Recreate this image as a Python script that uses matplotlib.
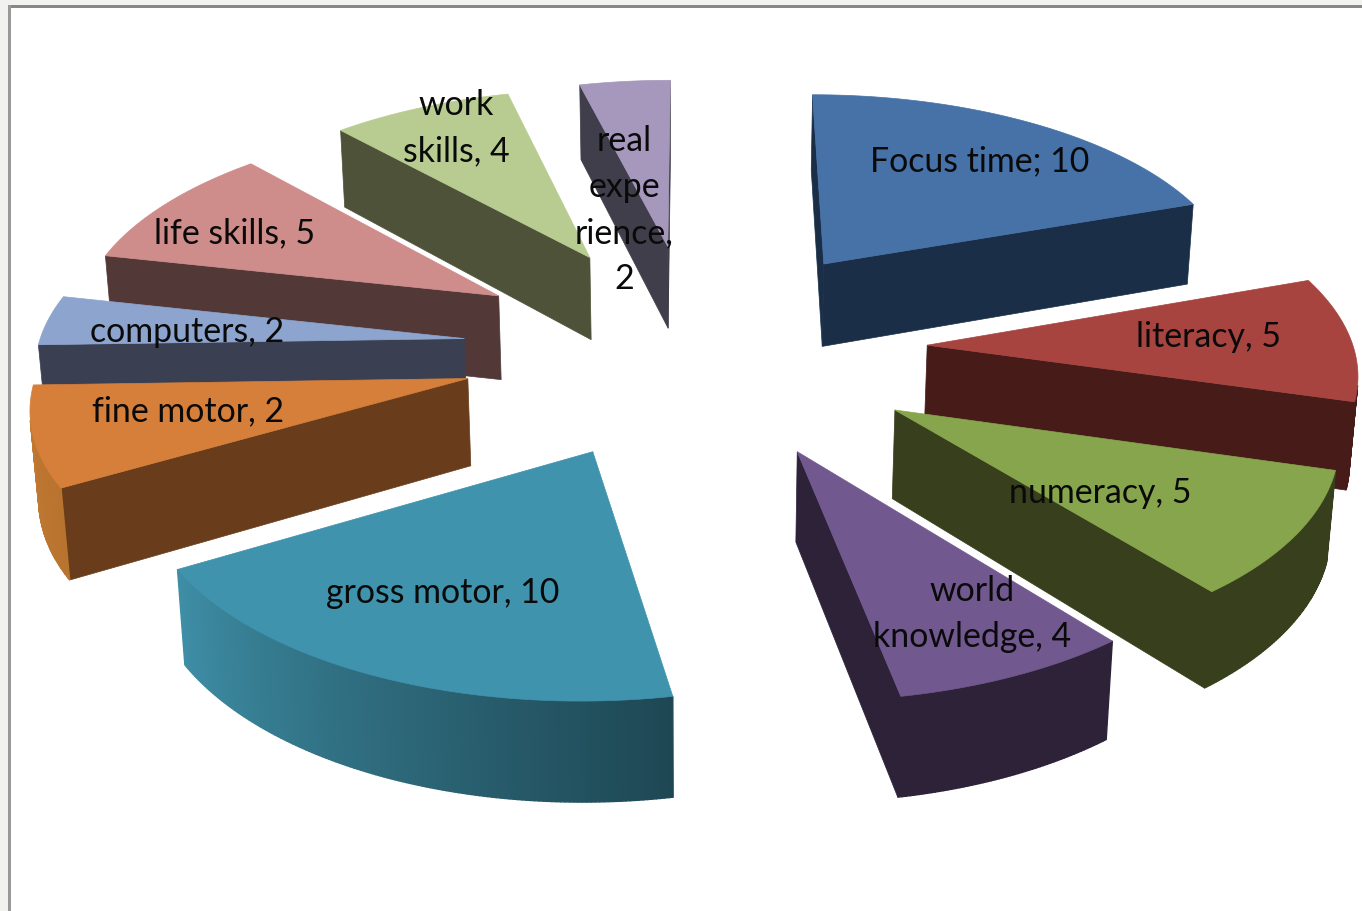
import numpy as np
import matplotlib
matplotlib.use("Agg")
import matplotlib.pyplot as plt
from matplotlib.colors import to_rgb
from matplotlib.patches import Polygon, Rectangle

# the chart
categories = ["Focus time", "literacy", "numeracy", "world knowledge", "gross motor",
              "fine motor", "computers", "life skills", "work skills", "real experience"]
label_texts = ["Focus time; 10", "literacy, 5", "numeracy, 5", "world\nknowledge, 4", "gross motor, 10",
               "fine motor, 2", "computers, 2", "life skills, 5", "work\nskills, 4", "real\nexpe\nrience,\n2"]
# wedge sizes as they look in the picture (fine motor is drawn about 4 wide though it is labelled 2)
wedge_sizes = [10, 5, 5, 4, 10, 4, 2, 5, 4, 2]

top_colors = ["#4672A8", "#A74440", "#87A54C", "#71588F", "#3F93AD",
              "#D67F3A", "#8DA5CE", "#CE8C8B", "#B8CC92", "#A698BC"]
wall_colors = ["#1A2E47", "#461B18", "#373F1C", "#2D2238", "#2F7F97",
               "#693D1B", "#3A3F51", "#533838", "#4D5238", "#413E4B"]
rim_start_colors = ["#1A2E47", "#461B18", "#373F1C", "#2D2238", "#1E4753",
                    "#B8732F", "#3A3F51", "#533838", "#4D5238", "#413E4B"]
rim_end_colors = ["#1A2E47", "#461B18", "#373F1C", "#2D2238", "#3E8EA6",
                  "#C47A33", "#3A3F51", "#533838", "#4D5238", "#413E4B"]

# label centres in pixels
label_x = [980, 1209, 1100, 972, 443, 188, 187, 235, 456, 624]
label_y = [161, 337, 493, 614, 593, 411, 332, 233, 128, 210]

# view of the 3d pie
CX, CY = 695, 348.5
HX, HY = 435, 202
PERSP = 0.10
SAG = 0.013
DEPTH = 86
EXPLODE = 0.535
RADIUS_X = 0.98


def project(x, y, z=0.0):
    w = 1 + PERSP * y
    return CX + HX * x / (w - SAG * z), CY - (HY * y + DEPTH * z) / w


def area(pts):
    p = np.asarray(pts)
    q = np.roll(p, -1, axis=0)
    return 0.5 * np.sum(p[:, 0] * q[:, 1] - q[:, 0] * p[:, 1])


def mix(c0, c1, t):
    return tuple((1 - t) * np.array(to_rgb(c0)) + t * np.array(to_rgb(c1)))


fig = plt.figure(figsize=(13.62, 9.11), dpi=100, facecolor="#F2F2F0")
ax = fig.add_axes([0, 0, 1, 1])
ax.set_xlim(0, 1362)
ax.set_ylim(911, 0)
ax.axis("off")

# window frame
ax.add_patch(Rectangle((8, 5), 1360, 910, fc="#FFFFFF", ec="none", zorder=0))
ax.add_patch(Rectangle((8, 5), 1360, 3, fc="#888888", ec="none", zorder=0.5))
ax.add_patch(Rectangle((8, 5), 3, 910, fc="#999999", ec="none", zorder=0.5))

edges = np.cumsum([0] + wedge_sizes) / sum(wedge_sizes) * 360
mids = (edges[:-1] + edges[1:]) / 2
apex_y = EXPLODE * np.cos(np.radians(mids))

# far slices first
for i in np.argsort(-apex_y):
    a0, a1 = edges[i], edges[i + 1]
    ox = EXPLODE * np.sin(np.radians(mids[i]))
    oy = EXPLODE * np.cos(np.radians(mids[i]))
    angles = np.linspace(a0, a1, max(int(a1 - a0) * 2, 2) + 1)
    rx = ox + RADIUS_X * np.sin(np.radians(angles))
    ry = oy + np.cos(np.radians(angles))

    top_rim = [project(x, y) for x, y in zip(rx, ry)]
    bot_rim = [project(x, y, -1) for x, y in zip(rx, ry)]
    apex_top = project(ox, oy)
    apex_bot = project(ox, oy, -1)

    # straight walls
    start_wall = [apex_top, top_rim[0], bot_rim[0], apex_bot]
    if area(start_wall) < 0:
        ax.add_patch(Polygon(start_wall, fc=wall_colors[i], ec=wall_colors[i], lw=0.5, zorder=2))
    end_wall = [apex_top, top_rim[-1], bot_rim[-1], apex_bot]
    if area(end_wall) > 0:
        ax.add_patch(Polygon(end_wall, fc=wall_colors[i], ec=wall_colors[i], lw=0.5, zorder=2))

    # outer wall, strip by strip
    for j in range(len(angles) - 1):
        quad = [top_rim[j], top_rim[j + 1], bot_rim[j + 1], bot_rim[j]]
        if area(quad) < 0:
            c = mix(rim_start_colors[i], rim_end_colors[i], j / (len(angles) - 2))
            ax.add_patch(Polygon(quad, fc=c, ec=c, lw=1.0, zorder=2))

    ax.add_patch(Polygon([apex_top] + top_rim, fc=top_colors[i], ec=top_colors[i], lw=0.5, zorder=2))

for name, lx, ly in zip(label_texts, label_x, label_y):
    ax.text(lx, ly, name, ha="center", va="center", family="Lato", fontsize=24.4,
            color="#0A0A0A", linespacing=1.55, zorder=5)

fig.savefig("out.png", dpi=100, facecolor=fig.get_facecolor())
